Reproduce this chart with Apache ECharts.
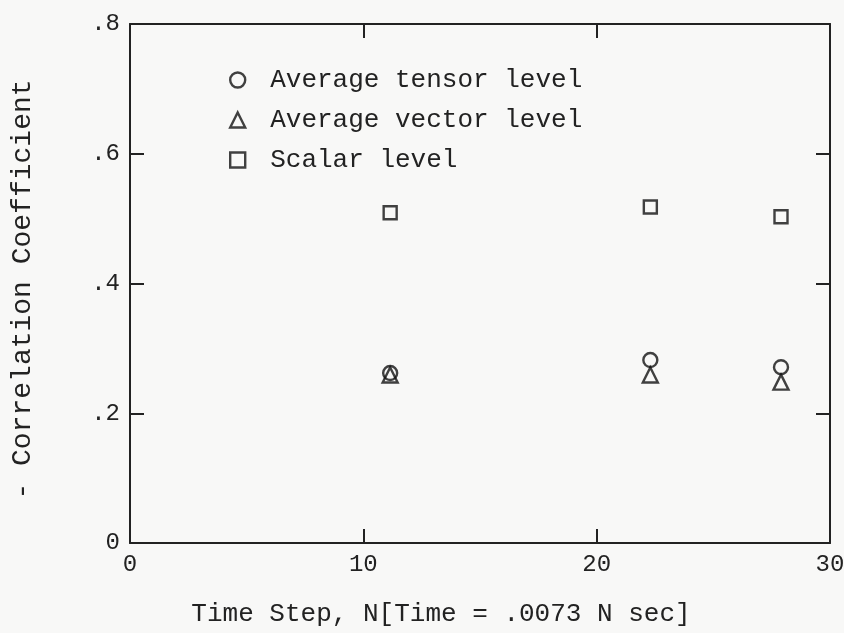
<!DOCTYPE html>
<html>
<head>
<meta charset="utf-8">
<script src="https://cdn.jsdelivr.net/npm/echarts@6/dist/echarts.min.js"></script>
<style>
  html, body { margin: 0; padding: 0; background: #f8f8f7; }
  #chart { width: 844px; height: 633px; }
</style>
</head>
<body>
<div id="chart"></div>
<script>
// Time steps (N) at which the coefficients were sampled
const timeSteps = [11.15, 22.3, 27.9];
// Correlation coefficient (negated) for each level
const tensorLevel = [0.262, 0.282, 0.271];
const vectorLevel = [0.259, 0.259, 0.248];
const scalarLevel = [0.509, 0.518, 0.503];

const seriesNames = ['Average tensor level', 'Average vector level', 'Scalar level'];

const FONT = '"Liberation Mono", "DejaVu Sans Mono", monospace';
const INK = '#222222';
const MARK = '#111111';

function pairs(ys) {
  return timeSteps.map((x, i) => [x, ys[i]]);
}

function yLabel(v) {
  if (Math.abs(v) < 1e-9) return '0';
  return v.toFixed(1).replace(/^0\./, '.');
}

const frameAxisLine = { show: true, onZero: false, lineStyle: { color: INK, width: 2 } };
const innerTick = { show: true, inside: true, length: 14, lineStyle: { color: INK, width: 2 } };

const markerStyle = { color: 'rgba(0,0,0,0)', borderColor: MARK, borderWidth: 2.4 };

const chart = echarts.init(document.getElementById('chart'));
chart.setOption({
  backgroundColor: '#f8f8f7',
  animation: false,
  grid: { left: 130, right: 14, top: 24, bottom: 90, outerBoundsMode: 'none', containLabel: false },
  legend: {
    orient: 'vertical',
    left: 224,
    top: 60,
    itemWidth: 15,
    itemHeight: 15,
    itemGap: 10,
    data: seriesNames,
    textStyle: {
      fontFamily: FONT, fontSize: 26, color: INK,
      lineHeight: 30, padding: [0, 0, 0, 20]
    },
    itemStyle: { borderWidth: 2.4, borderColor: MARK }
  },
  xAxis: [{
    type: 'value', min: 0, max: 30, interval: 10,
    position: 'bottom',
    axisLine: frameAxisLine,
    axisTick: innerTick,
    splitLine: { show: false },
    axisLabel: { fontFamily: FONT, fontSize: 24, color: INK, margin: 10 },
    name: 'Time Step, N[Time = .0073 N sec]',
    nameLocation: 'middle',
    nameGap: 58,
    nameTextStyle: { fontFamily: FONT, fontSize: 26, color: INK, padding: [0, 78, 0, 0] }
  }, {
    type: 'value', min: 0, max: 30, interval: 10,
    position: 'top',
    axisLine: frameAxisLine,
    axisTick: innerTick,
    splitLine: { show: false },
    axisLabel: { show: false }
  }],
  yAxis: [{
    type: 'value', min: 0, max: 0.8, interval: 0.2,
    position: 'left',
    axisLine: frameAxisLine,
    axisTick: innerTick,
    splitLine: { show: false },
    axisLabel: { fontFamily: FONT, fontSize: 24, color: INK, margin: 10, formatter: yLabel },
    name: '- Correlation Coefficient',
    nameLocation: 'middle',
    nameGap: 93,
    nameTextStyle: { fontFamily: FONT, fontSize: 28, color: INK, padding: [0, 12, 0, 0] }
  }, {
    type: 'value', min: 0, max: 0.8, interval: 0.2,
    position: 'right',
    axisLine: frameAxisLine,
    axisTick: innerTick,
    splitLine: { show: false },
    axisLabel: { show: false }
  }],
  series: [{
    name: seriesNames[0], type: 'scatter', symbol: 'circle', symbolSize: 14,
    itemStyle: markerStyle, data: pairs(tensorLevel)
  }, {
    name: seriesNames[1], type: 'scatter', symbol: 'triangle', symbolSize: 15,
    itemStyle: markerStyle, data: pairs(vectorLevel)
  }, {
    name: seriesNames[2], type: 'scatter', symbol: 'rect', symbolSize: 13,
    itemStyle: markerStyle, data: pairs(scalarLevel)
  }]
});
</script>
</body>
</html>
